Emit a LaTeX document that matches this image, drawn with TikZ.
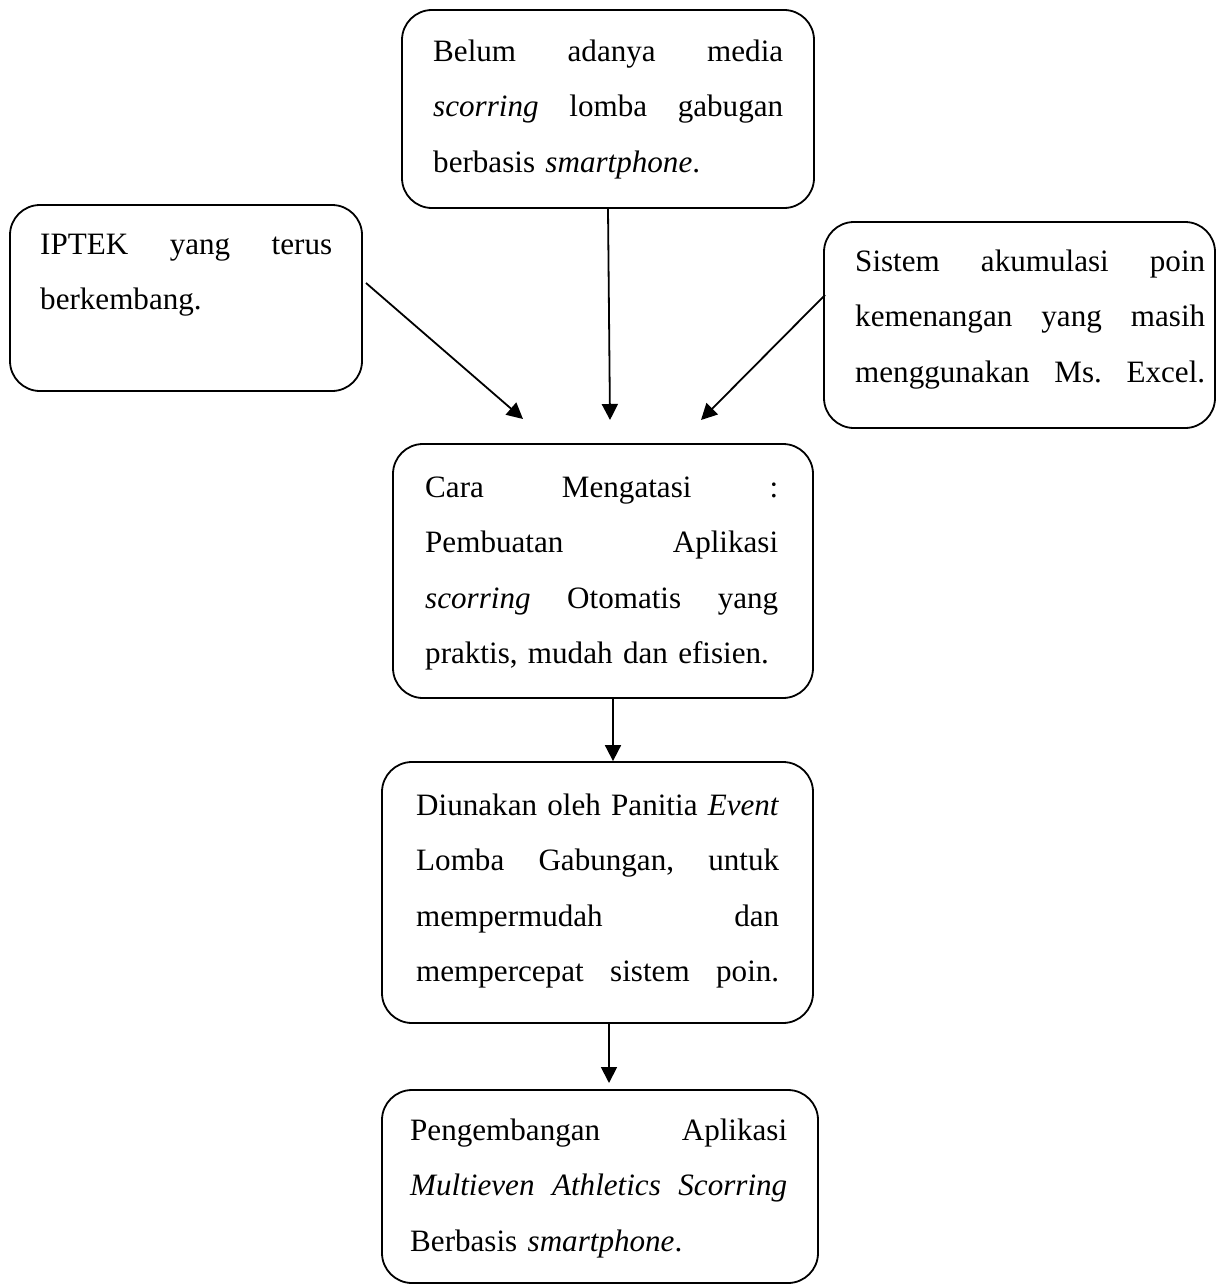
\documentclass[tikz,border=0pt]{standalone}
\usepackage{fontspec}
\setmainfont{Liberation Serif}
\usetikzlibrary{arrows.meta}
\newcommand\J[2]{\leavevmode\hbox to #1pt{#2}}
\newcommand\FS{\rule{0pt}{24pt}}
\begin{document}
\frenchspacing
\begin{tikzpicture}[x=1pt,y=-1pt,
  box/.style={draw=black, line width=1.8pt, rounded corners=30pt, rectangle, inner sep=0pt},
  txt/.style={anchor=north west, inner sep=0pt, align=left, font=\fontsize{31.1}{55.5}\selectfont},
  arr/.style={draw=black, line width=1.8pt, -{Triangle[length=16pt,width=16pt]}}]
\useasboundingbox (0,0) rectangle (1218,1287);
% boxes
\node[box, minimum width=412pt, minimum height=198pt] (b1) at (608,109) {};
\node[box, minimum width=352pt, minimum height=186pt] (b2) at (186,298) {};
\node[box, minimum width=391pt, minimum height=206pt] (b3) at (1019.5,325) {};
\node[box, minimum width=420pt, minimum height=254pt] (b4) at (603,571) {};
\node[box, minimum width=431pt, minimum height=261pt] (b5) at (597.5,892.5) {};
\node[box, minimum width=436pt, minimum height=193pt] (b6) at (600,1186.5) {};
% texts
\node[txt, text width=350pt] (t1) at (433,37) {\FS\J{350}{Belum\hfill adanya\hfill media}\\ \J{350}{\textit{scorring}\hfill lomba\hfill gabugan}\\ berbasis \textit{smartphone}.};
\node[txt, text width=292pt] (t2) at (40,230) {\FS\J{292}{IPTEK\hfill yang\hfill terus}\\ berkembang.};
\node[txt, text width=350pt] (t3) at (855,247) {\FS\J{350}{Sistem\hfill akumulasi\hfill poin}\\ \J{350}{kemenangan\hfill yang\hfill masih}\\ \J{350}{menggunakan\hfill Ms.\hfill Excel.}};
\node[txt, text width=353pt] (t4) at (425,473) {\FS\J{353}{Cara\hfill Mengatasi\hfill :}\\ \J{353}{Pembuatan\hfill Aplikasi}\\ \J{353}{\textit{scorring}\hfill Otomatis\hfill yang}\\ praktis, mudah dan efisien.};
\node[txt, text width=363pt] (t5) at (416,791) {\FS\J{363}{Diunakan\hfill oleh\hfill Panitia\hfill \textit{Event}}\\ \J{363}{Lomba\hfill Gabungan,\hfill untuk}\\ \J{363}{mempermudah\hfill dan}\\ \J{363}{mempercepat\hfill sistem\hfill poin.}};
\node[txt, text width=377pt] (t6) at (410,1116) {\FS\J{377}{Pengembangan\hfill Aplikasi}\\ \J{377}{\textit{Multieven}\hfill \textit{Athletics}\hfill \textit{Scorring}}\\ Berbasis \textit{smartphone}.};
% connector ends
\coordinate (s1) at (366,283);
\coordinate (e1) at (523,419);
\coordinate (e2) at (610,420);
\coordinate (s3) at (825,295);
\coordinate (e3) at (701,420);
\coordinate (x4) at (613,0);
\coordinate (e5) at (609,1083);
% connectors
\draw[arr] (s1) -- (e1);
\draw[arr] (b1.south) -- (e2);
\draw[arr] (s3) -- (e3);
\draw[arr] (b4.south -| x4) -- (b5.north -| x4);
\draw[arr] (b5.south -| e5) -- (e5);
\end{tikzpicture}
\end{document}
